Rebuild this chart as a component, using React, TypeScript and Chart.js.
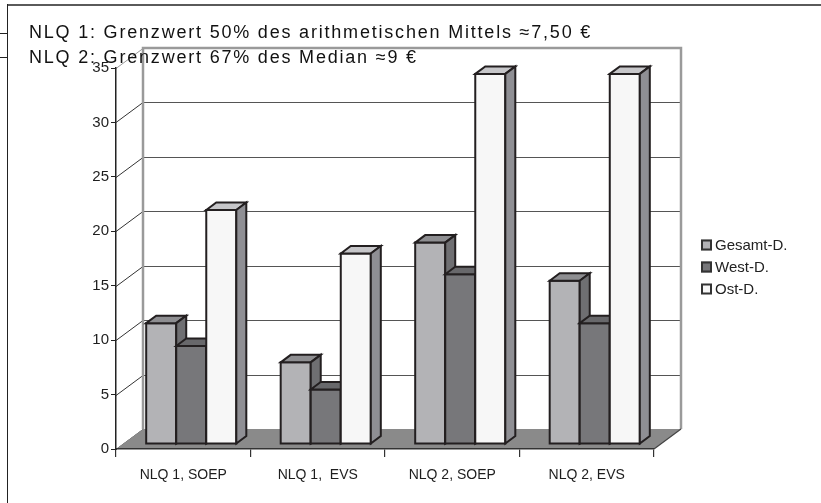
import React, { useEffect, useRef } from "react";
import { Chart, registerables } from "chart.js";

Chart.register(...registerables);

const categories = ["NLQ 1, SOEP", "NLQ 1,  EVS", "NLQ 2, SOEP", "NLQ 2, EVS"];
const seriesLabels = ["Gesamt-D.", "West-D.", "Ost-D."];
const gesamtD = [11.1, 7.5, 18.5, 15.0];
const westD = [9.0, 5.0, 15.6, 11.1];
const ostD = [21.5, 17.5, 34.0, 34.0];
const yTicks = [0, 5, 10, 15, 20, 25, 30, 35];
const titleLines = [
  "NLQ 1: Grenzwert 50% des arithmetischen Mittels \u22487,50 \u20ac",
  "NLQ 2: Grenzwert 67% des Median \u22489 \u20ac",
];

const frontColors = ["#b3b3b6", "#77777a", "#f7f7f7"];
const topColors = ["#8e8e91", "#68686b", "#c6c6c9"];
const sideColors = ["#6f6f72", "#5a5a5d", "#8f8f94"];

const WALL_DX = 27;
const WALL_DY = -20;
const BAR_SHIFT_X = 8;
const BAR_SHIFT_Y = -5;
const BAR_DX = 10;
const BAR_DY = -7.5;
const FONT = "'Liberation Sans', Arial, Helvetica, sans-serif";

const threeDPlugin = {
  id: "threeD",
  beforeDraw(chart: any) {
    const { ctx, chartArea: a, scales } = chart;
    const y = scales.y;
    const bl = a.left + WALL_DX;
    const br = a.right + WALL_DX;
    const bt = a.top + WALL_DY;
    const bb = a.bottom + WALL_DY;
    ctx.save();
    ctx.fillStyle = "#ffffff";
    ctx.fillRect(bl, bt, br - bl, bb - bt);
    ctx.lineWidth = 1;
    yTicks.forEach((v, idx) => {
      const py = Math.round(y.getPixelForValue(v)) + 0.5;
      ctx.strokeStyle = idx === yTicks.length - 1 ? "#9a9a9a" : "#333333";
      ctx.beginPath();
      ctx.moveTo(a.left, py);
      ctx.lineTo(bl, py + WALL_DY);
      ctx.stroke();
      if (idx > 0 && idx < yTicks.length - 1) {
        ctx.strokeStyle = "#555555";
        ctx.beginPath();
        ctx.moveTo(bl, py + WALL_DY);
        ctx.lineTo(br, py + WALL_DY);
        ctx.stroke();
      }
    });
    ctx.strokeStyle = "#9a9a9a";
    ctx.lineWidth = 2.5;
    ctx.beginPath();
    ctx.moveTo(bl, bb);
    ctx.lineTo(bl, bt);
    ctx.lineTo(br, bt);
    ctx.lineTo(br, bb);
    ctx.stroke();
    ctx.fillStyle = "#8a8a8a";
    ctx.beginPath();
    ctx.moveTo(a.left, a.bottom);
    ctx.lineTo(a.right, a.bottom);
    ctx.lineTo(br, bb);
    ctx.lineTo(bl, bb);
    ctx.closePath();
    ctx.fill();
    ctx.strokeStyle = "#444444";
    ctx.lineWidth = 1.2;
    ctx.beginPath();
    ctx.moveTo(a.right, a.bottom);
    ctx.lineTo(br, bb);
    ctx.stroke();
    ctx.restore();
  },
  beforeDatasetsDraw(chart: any) {
    const { ctx } = chart;
    const metas = chart.data.datasets.map((_: any, i: number) => chart.getDatasetMeta(i));
    ctx.save();
    ctx.lineWidth = 2;
    ctx.strokeStyle = "#231f20";
    ctx.lineJoin = "miter";
    for (let j = 0; j < categories.length; j++) {
      for (let i = 0; i < metas.length; i++) {
        const el = metas[i].data[j];
        if (!el) continue;
        const x0 = el.x - el.width / 2 + BAR_SHIFT_X;
        const x1 = el.x + el.width / 2 + BAR_SHIFT_X;
        const y0 = el.y + BAR_SHIFT_Y;
        const y1 = el.base + BAR_SHIFT_Y;
        ctx.fillStyle = frontColors[i];
        ctx.beginPath();
        ctx.rect(x0, y0, x1 - x0, y1 - y0);
        ctx.fill();
        ctx.stroke();
        ctx.fillStyle = topColors[i];
        ctx.beginPath();
        ctx.moveTo(x0, y0);
        ctx.lineTo(x0 + BAR_DX, y0 + BAR_DY);
        ctx.lineTo(x1 + BAR_DX, y0 + BAR_DY);
        ctx.lineTo(x1, y0);
        ctx.closePath();
        ctx.fill();
        ctx.stroke();
        ctx.fillStyle = sideColors[i];
        ctx.beginPath();
        ctx.moveTo(x1, y0);
        ctx.lineTo(x1 + BAR_DX, y0 + BAR_DY);
        ctx.lineTo(x1 + BAR_DX, y1 + BAR_DY);
        ctx.lineTo(x1, y1);
        ctx.closePath();
        ctx.fill();
        ctx.stroke();
      }
    }
    ctx.restore();
    return false;
  },
  afterDraw(chart: any) {
    const { ctx } = chart;
    ctx.save();
    const lx = 701;
    const centers = [245, 267, 289];
    chart.data.datasets.forEach((ds: any, i: number) => {
      const cy = centers[i];
      ctx.fillStyle = frontColors[i];
      ctx.fillRect(lx, cy - 5.5, 11, 11);
      ctx.strokeStyle = "#333333";
      ctx.lineWidth = 2;
      ctx.strokeRect(lx + 1, cy - 4.5, 9, 9);
      ctx.fillStyle = "#222222";
      ctx.font = `15px ${FONT}`;
      ctx.textBaseline = "middle";
      ctx.textAlign = "left";
      ctx.fillText(ds.label, lx + 14, cy + 0.5);
    });
    ctx.strokeStyle = "#5a5a5a";
    ctx.lineWidth = 2;
    ctx.beginPath();
    ctx.moveTo(7, 5);
    ctx.lineTo(821, 5);
    ctx.stroke();
    ctx.strokeStyle = "#222222";
    ctx.lineWidth = 1;
    ctx.beginPath();
    ctx.moveTo(7.5, 4);
    ctx.lineTo(7.5, 503);
    ctx.moveTo(0, 33.5);
    ctx.lineTo(7.5, 33.5);
    ctx.moveTo(0, 57.5);
    ctx.lineTo(7.5, 57.5);
    ctx.stroke();
    ctx.restore();
  },
};

export default function App() {
  const canvasRef = useRef<HTMLCanvasElement | null>(null);

  useEffect(() => {
    const canvas = canvasRef.current;
    if (!canvas) return;
    const chart = new Chart(canvas, {
      type: "bar",
      data: {
        labels: categories,
        datasets: [
          { label: seriesLabels[0], data: gesamtD, backgroundColor: frontColors[0] },
          { label: seriesLabels[1], data: westD, backgroundColor: frontColors[1] },
          { label: seriesLabels[2], data: ostD, backgroundColor: frontColors[2] },
        ],
      },
      options: {
        responsive: false,
        animation: false,
        devicePixelRatio: 1,
        layout: { padding: { left: 71, right: 167, top: 68, bottom: 14 } },
        datasets: { bar: { categoryPercentage: 0.67, barPercentage: 1 } },
        plugins: {
          legend: { display: false },
          tooltip: { enabled: false },
          title: { display: false },
        },
        scales: {
          x: {
            type: "category",
            offset: true,
            afterFit: (s: any) => {
              s.height = 40;
            },
            grid: {
              offset: true,
              drawOnChartArea: false,
              drawTicks: true,
              tickLength: 8,
              color: "#333333",
              lineWidth: 1.2,
            },
            border: { display: true, color: "#333333", width: 1.5 },
            ticks: {
              color: "#1e1e1e",
              font: { family: FONT, size: 14 },
              padding: 10,
              maxRotation: 0,
              autoSkip: false,
            },
          },
          y: {
            type: "linear",
            min: 0,
            max: 35,
            afterFit: (s: any) => {
              s.width = 45;
            },
            afterBuildTicks: (s: any) => {
              s.ticks = yTicks.map((v) => ({ value: v }));
            },
            grid: {
              drawOnChartArea: false,
              drawTicks: true,
              tickLength: 5,
              color: "#222222",
              lineWidth: 1,
            },
            border: { display: true, color: "#222222", width: 1.5 },
            ticks: {
              color: "#1e1e1e",
              font: { family: FONT, size: 15 },
              padding: 2,
            },
          },
        },
      },
      plugins: [threeDPlugin],
    });
    return () => chart.destroy();
  }, []);

  return (
    <div style={{ position: "fixed", left: 0, top: 0, width: 821, height: 503, background: "#ffffff" }}>
      <canvas ref={canvasRef} width={821} height={503} style={{ width: 821, height: 503, display: "block" }} />
      {titleLines.map((t, i) => (
        <div
          key={i}
          style={{
            position: "absolute",
            left: 29,
            top: i === 0 ? 21 : 46,
            fontFamily: FONT,
            fontSize: 18,
            letterSpacing: "1.8px",
            lineHeight: "22px",
            color: "#111111",
            whiteSpace: "pre",
          }}
        >
          {t}
        </div>
      ))}
    </div>
  );
}
